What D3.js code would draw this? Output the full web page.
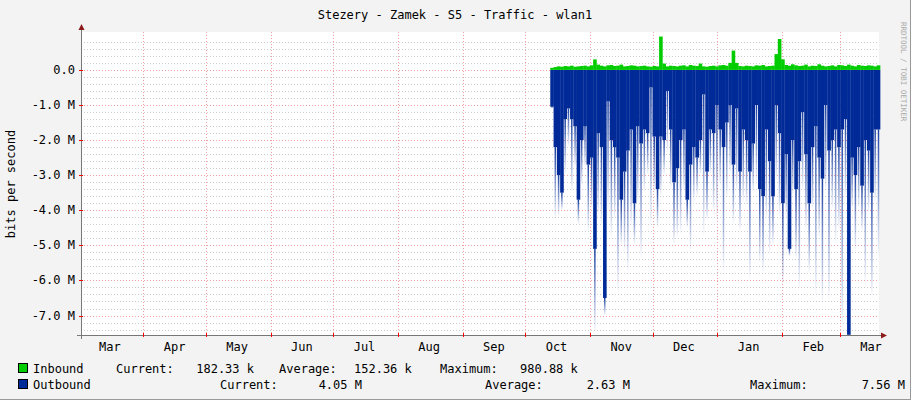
<!DOCTYPE html>
<html><head><meta charset="utf-8">
<script src="https://cdn.jsdelivr.net/npm/d3@7"></script>
<style>body{margin:0;background:#f3f3f3}svg{display:block}text{font-family:"DejaVu Sans Mono",monospace;}</style>
</head><body><svg id="c" width="911" height="400"></svg>
<script>
const title = "Stezery - Zamek - S5 - Traffic - wlan1";
const monthLabels = ["Mar","Apr","May","Jun","Jul","Aug","Sep","Oct","Nov","Dec","Jan","Feb","Mar"];
const yTicks = [0,-1,-2,-3,-4,-5,-6,-7];
const dataStart = new Date(2022,9,13);
const stepDays = 1.58;
// Mbit/s
const inbound = [0.06,0.08,0.10,0.09,0.11,0.10,0.12,0.09,0.10,0.11,0.12,0.10,0.13,0.30,0.15,0.12,0.10,0.13,0.14,0.11,0.12,0.15,0.10,0.11,0.13,0.12,0.10,0.11,0.12,0.10,0.09,0.11,0.10,0.95,0.18,0.10,0.12,0.11,0.10,0.12,0.13,0.10,0.14,0.12,0.11,0.18,0.10,0.09,0.11,0.12,0.10,0.13,0.14,0.12,0.20,0.55,0.20,0.11,0.10,0.12,0.11,0.10,0.13,0.12,0.14,0.10,0.11,0.12,0.45,0.88,0.30,0.14,0.12,0.16,0.13,0.11,0.12,0.15,0.10,0.12,0.11,0.16,0.12,0.10,0.11,0.13,0.10,0.14,0.13,0.11,0.15,0.12,0.10,0.14,0.12,0.11,0.13,0.12,0.10,0.13];
const outSolid = [1.05,2.2,3.0,3.5,1.4,1.1,1.4,1.6,3.7,2.0,1.6,2.7,2.5,5.1,1.8,2.2,6.5,0.9,2.0,2.2,2.5,3.7,2.9,2.3,1.7,3.8,1.6,2.1,1.7,1.8,0.5,1.9,3.4,1.9,2.0,0.6,1.7,3.2,2.8,2.0,1.7,3.7,2.7,2.2,2.5,2.0,0.7,2.9,1.7,1.8,1.0,1.7,2.2,1.5,1.0,2.7,1.1,2.9,1.7,2.0,2.9,2.1,1.0,3.4,3.6,1.7,2.6,3.6,1.0,1.8,3.8,2.4,5.1,2.0,3.4,2.6,1.2,2.4,3.8,2.2,1.6,2.5,3.1,1.0,2.3,2.0,1.7,2.2,1.7,1.4,7.55,2.5,3.0,2.2,3.3,2.0,2.3,3.5,1.7,1.7];
const outPeak = [1.1,4.3,4.2,4.0,3.0,2.2,3.5,2.8,4.4,3.3,2.8,4.6,4.0,7.5,4.2,4.5,7.0,4.0,4.8,4.3,6.4,5.0,5.2,5.8,4.5,5.0,3.8,5.4,3.5,3.0,4.5,3.5,4.5,3.6,3.0,2.4,3.4,5.0,4.8,4.7,3.5,4.5,5.2,3.8,3.6,3.0,4.8,4.3,3.0,4.1,4.3,3.3,5.8,3.7,3.0,4.4,3.5,4.6,3.8,3.9,6.0,3.5,3.3,5.5,5.8,4.3,5.3,5.0,3.2,4.2,6.2,4.2,5.3,3.6,5.4,6.3,3.5,4.6,5.8,4.0,6.5,4.8,6.7,3.5,6.6,4.0,5.0,4.6,7.5,3.7,7.55,4.0,5.2,4.0,4.6,6.2,4.1,6.5,3.8,5.4];
const legendIn = ["Inbound","Current:","182.33 k","Average:","152.36 k","Maximum:","980.88 k"];
const legendOut = ["Outbound","Current:","4.05 M","Average:","2.63 M","Maximum:","7.56 M"];

const svg = d3.select("#c");
const L=81,R=879,T=32,B=335;
svg.append("rect").attr("width",911).attr("height",400).attr("fill","#f3f3f3");
svg.append("line").attr("x1",910.5).attr("x2",910.5).attr("y1",0).attr("y2",400).attr("stroke","#999");
svg.append("line").attr("x1",0).attr("x2",911).attr("y1",399.5).attr("y2",399.5).attr("stroke","#999");
svg.append("rect").attr("x",L).attr("y",T).attr("width",R-L).attr("height",B-T).attr("fill","#fff");
const x = d3.scaleTime().domain([new Date(2022,2,2,4),new Date(2023,2,19,12)]).range([L,R]);
const y = d3.scaleLinear().domain([-7.555,1.08]).range([B,T]);
d3.range(-7.4,1.05,0.2).forEach(v=>{ if(Math.abs(v-Math.round(v))<0.01) return;
  svg.append("line").attr("x1",L).attr("x2",R).attr("y1",Math.round(y(v))+0.5).attr("y2",Math.round(y(v))+0.5)
   .attr("stroke","#ccc").attr("stroke-dasharray","1,2");});
yTicks.forEach(v=>svg.append("line").attr("x1",L).attr("x2",R).attr("y1",Math.round(y(v))+0.5).attr("y2",Math.round(y(v))+0.5)
   .attr("stroke","#f0a0a0").attr("stroke-dasharray","1,2"));
const months = d3.timeMonth.range(new Date(2022,3,1),new Date(2023,2,2));
months.forEach(d=>svg.append("line").attr("x1",Math.round(x(d))+0.5).attr("x2",Math.round(x(d))+0.5).attr("y1",T).attr("y2",B)
   .attr("stroke","#f0a0a0").attr("stroke-dasharray","1,2"));
const defs = svg.append("defs");
const g = defs.append("linearGradient").attr("id","fade").attr("x1",0).attr("x2",0).attr("y1",0).attr("y2",1);
g.append("stop").attr("offset","0").attr("stop-color","#002A97").attr("stop-opacity",0.9);
g.append("stop").attr("offset","1").attr("stop-color","#002A97").attr("stop-opacity",0);
const t = i=>new Date(dataStart.getTime()+i*stepDays*864e5);
const w = x(t(1))-x(t(0));
const idx = d3.range(outSolid.length);
svg.append("g").selectAll("rect").data(idx).join("rect")
  .attr("x",i=>x(t(i))+w*0.3).attr("width",w*0.45)
  .attr("y",i=>y(-outSolid[i])).attr("height",i=>Math.max(0,y(-outPeak[i])-y(-outSolid[i])))
  .attr("fill","url(#fade)");
svg.append("g").selectAll("rect").data(idx).join("rect")
  .attr("x",i=>x(t(i))).attr("width",w+0.3).attr("y",y(0)).attr("height",i=>y(-outSolid[i])-y(0))
  .attr("fill","#002A97");
svg.append("g").selectAll("rect").data(idx).join("rect")
  .attr("x",i=>x(t(i))).attr("width",w+0.3).attr("y",i=>y(inbound[i])).attr("height",i=>y(0)-y(inbound[i]))
  .attr("fill","#00CC00");
svg.append("line").attr("x1",L+0.5).attr("x2",L+0.5).attr("y1",T-3).attr("y2",B+4).attr("stroke","#777");
svg.append("line").attr("x1",L-4).attr("x2",R+3).attr("y1",B+0.5).attr("y2",B+0.5).attr("stroke","#777");
svg.append("path").attr("d",`M${L-2.5},${T-2}L${L+3.5},${T-2}L${L+0.5},${T-8}Z`).attr("fill","#8b1a1a");
svg.append("path").attr("d",`M${R+2},${B-2.5}L${R+2},${B+3.5}L${R+8},${B+0.5}Z`).attr("fill","#8b1a1a");
yTicks.forEach(v=>{
  svg.append("line").attr("x1",L-2).attr("x2",L+2).attr("y1",Math.round(y(v))+0.5).attr("y2",Math.round(y(v))+0.5).attr("stroke","#f00");
  svg.append("text").attr("x",L-6).attr("y",y(v)+4).attr("text-anchor","end").attr("font-size",12).attr("fill","#000")
   .text(v===0?"0.0":v.toFixed(1)+" M");});
d3.timeMonth.range(new Date(2022,2,1),new Date(2023,3,1)).forEach((d,i)=>{
  const mid = new Date(d.getTime()+15*864e5);
  svg.append("line").attr("x1",Math.round(x(d))+0.5).attr("x2",Math.round(x(d))+0.5).attr("y1",B-2).attr("y2",B+2).attr("stroke","#f00").attr("opacity",x(d)>L?1:0);
  svg.append("text").attr("x",Math.min(x(mid),871)).attr("y",B+16).attr("text-anchor","middle").attr("font-size",12).text(monthLabels[i]);
});
svg.append("text").attr("x",455).attr("y",19).attr("text-anchor","middle").attr("font-size",12).text(title);
svg.append("text").attr("transform","translate(15,184) rotate(-90)").attr("text-anchor","middle").attr("font-size",12).text("bits per second");
svg.append("text").attr("transform","translate(901,22) rotate(90)").attr("font-size",7.5).attr("fill","#aaa").text("RRDTOOL / TOBI OETIKER");
svg.append("rect").attr("x",18.5).attr("y",363.5).attr("width",9).attr("height",9).attr("fill","#00CC00").attr("stroke","#000");
svg.append("rect").attr("x",18.5).attr("y",379.5).attr("width",9).attr("height",9).attr("fill","#002A97").attr("stroke","#000");
function ltxt(px,py,s,a){svg.append("text").attr("x",px).attr("y",py).attr("text-anchor",a).attr("font-size",12).text(s);}
const ix=[33,116,580,279,354,440,520], ia=["start","start","end","start","start","start","start"];
legendIn.forEach((s,i)=>ltxt(i==2?254:ix[i],373,s,i==2?"end":"start"));
const ox=[33,220,362,485,630,750,905], oa=["start","start","end","start","end","start","end"];
legendOut.forEach((s,i)=>ltxt(ox[i],389,s,oa[i]));
</script></body></html>
